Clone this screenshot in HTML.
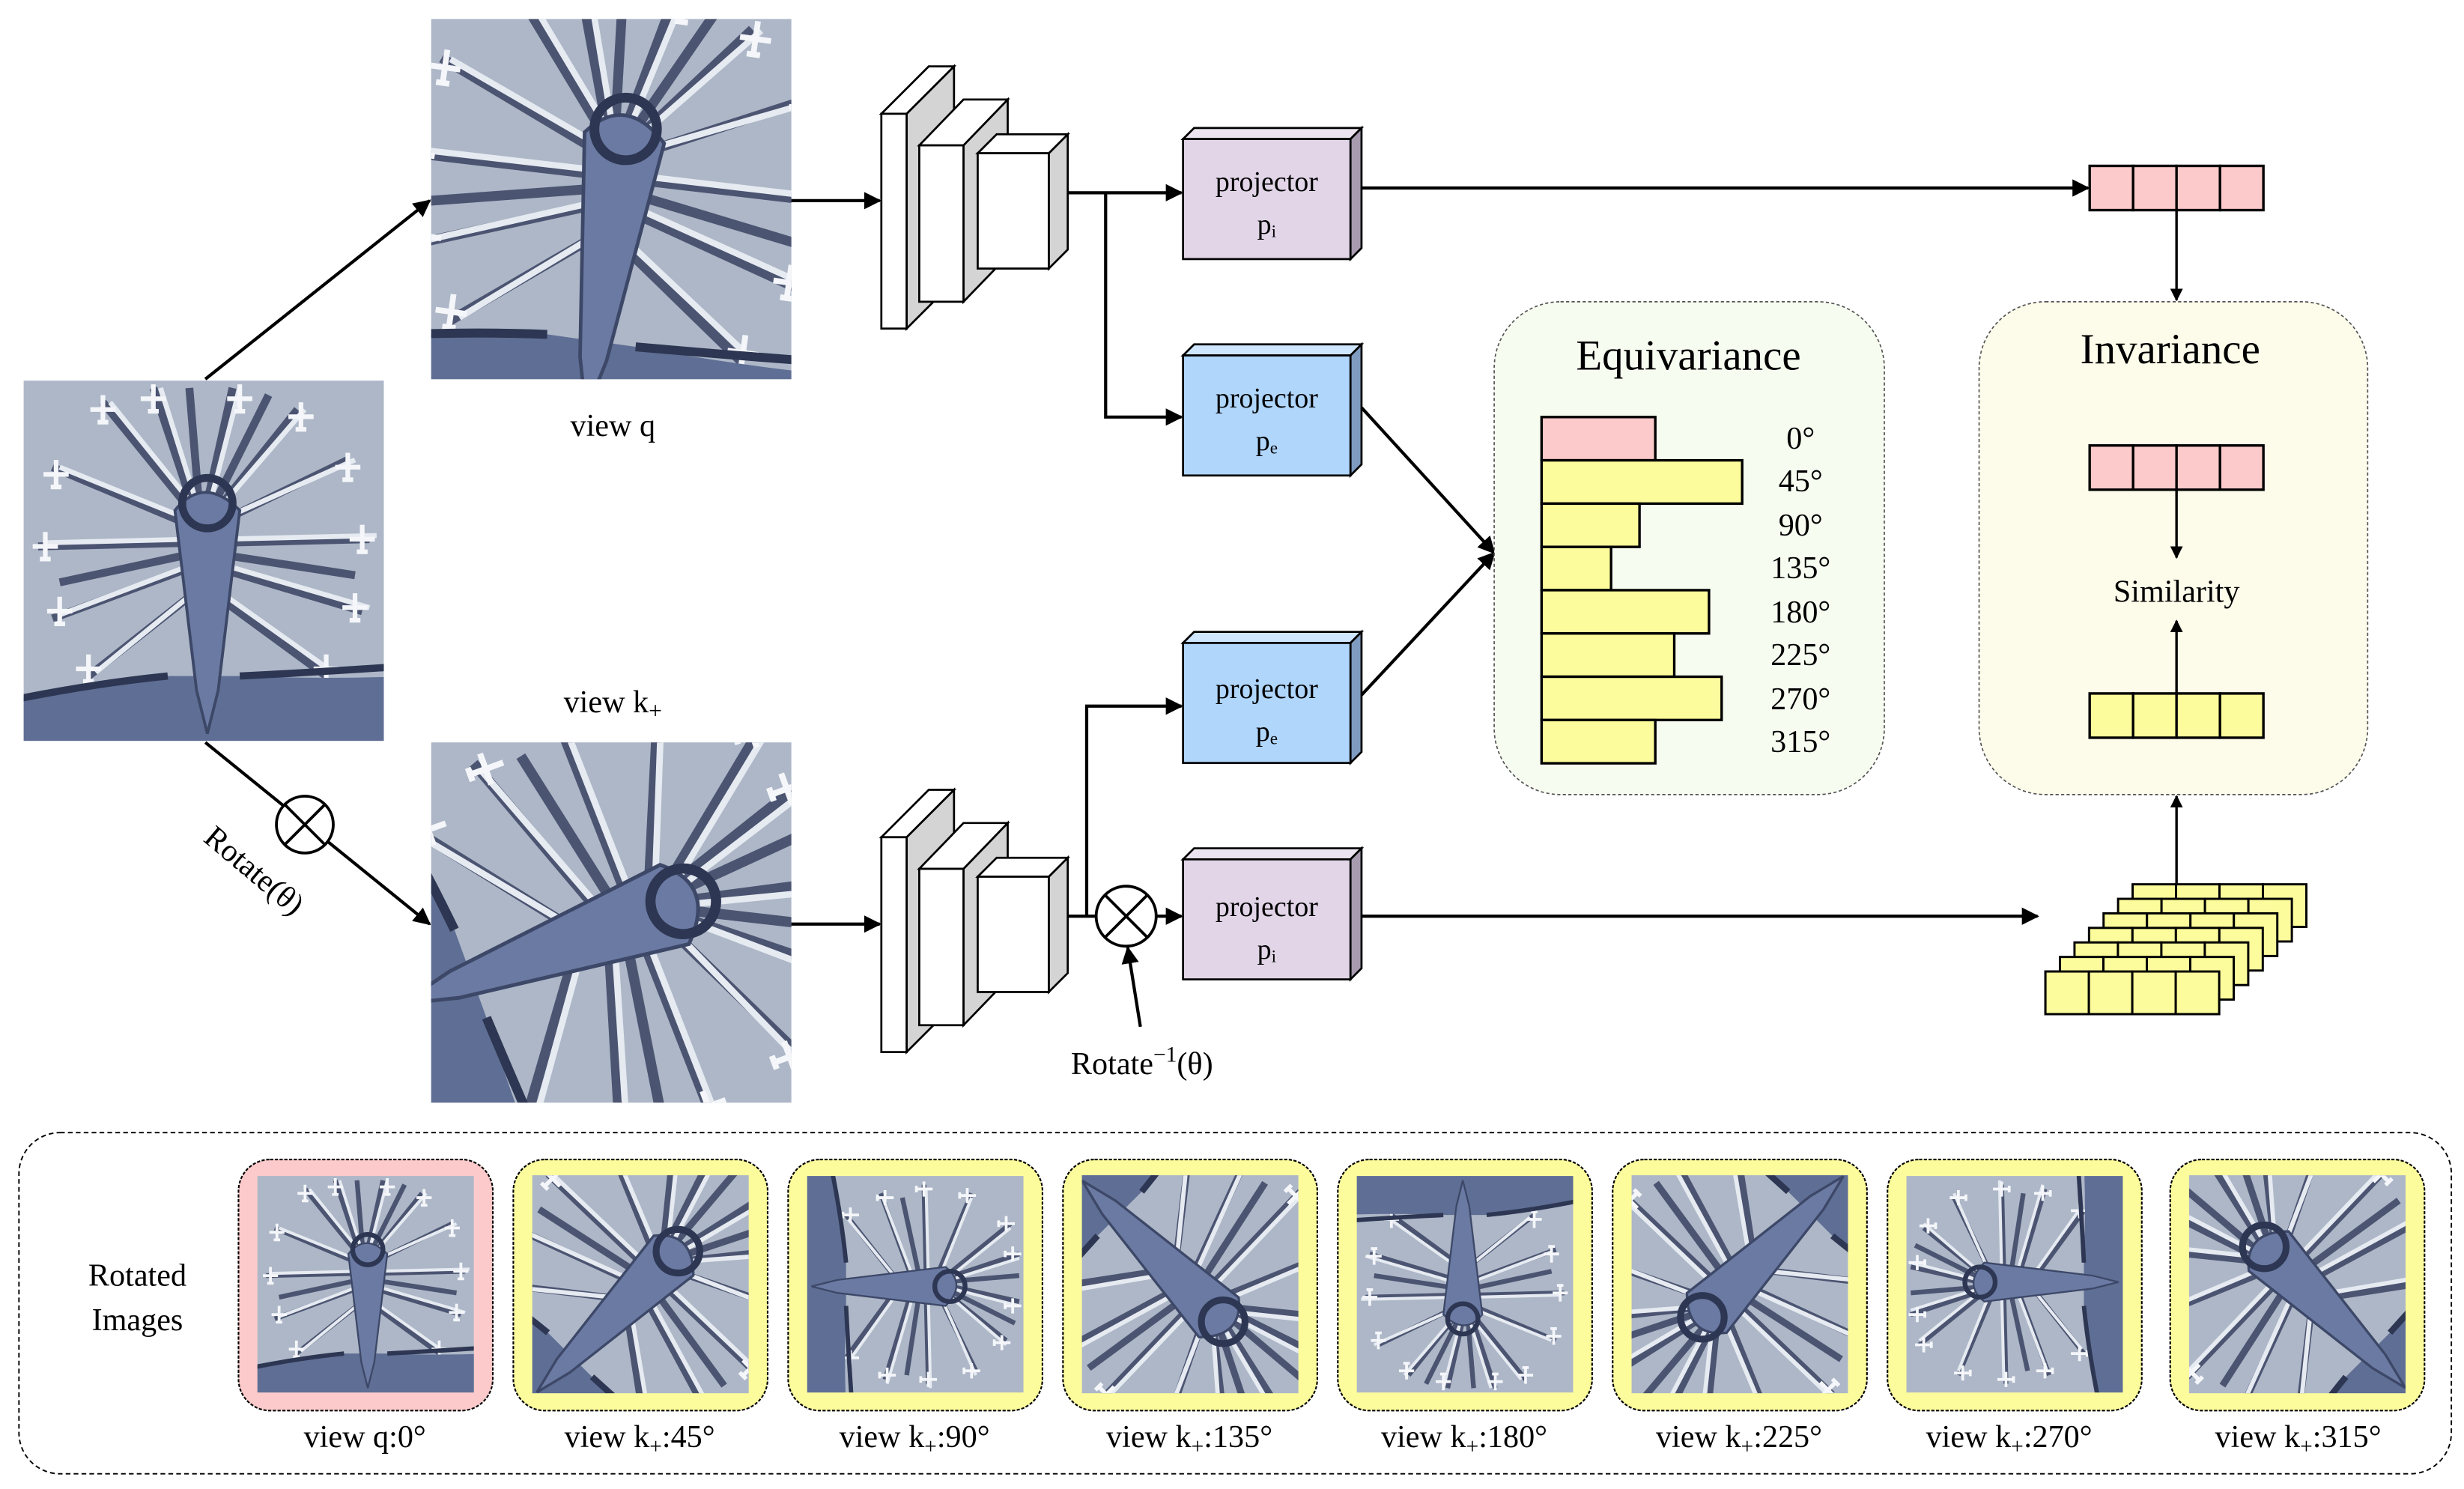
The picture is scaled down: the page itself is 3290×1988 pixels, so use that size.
<!DOCTYPE html>
<html><head><meta charset="utf-8"><style>
html,body{margin:0;padding:0;background:#fff;overflow:hidden;width:3290px;height:1988px;}
svg{display:block;}
text{font-family:"Liberation Serif",serif;fill:#000;}
</style></head><body>
<svg width="3290" height="1988" viewBox="0 0 1560 942.6" overflow="hidden" xmlns="http://www.w3.org/2000/svg">
<defs>
<marker id="ah" viewBox="0 0 10 10" refX="9" refY="5" markerWidth="8" markerHeight="8" markerUnits="userSpaceOnUse" orient="auto"><path d="M0,0 L10,5 L0,10 z" fill="#000"/></marker>
<marker id="ah2" viewBox="0 0 10 10" refX="9" refY="5" markerWidth="11" markerHeight="11" markerUnits="userSpaceOnUse" orient="auto"><path d="M0,0 L10,5 L0,10 z" fill="#000"/></marker>
<g id="pl"><path d="M0,-4 L0,4 M-3.5,0 L3.5,0 M-1.5,3.5 L1.5,3.5" stroke="#f4f6fa" stroke-width="1.3"/></g>
<symbol id="ap" viewBox="0 0 100 100">
<rect x="-50" y="-50" width="200" height="200" fill="#b3bccb"/>
<rect x="-50" y="-50" width="200" height="200" fill="#9aa6ba" opacity="0.25"/>
<g stroke="#3a4361" stroke-width="2.2" fill="none" opacity="0.85">
<path d="M48,38 L22,6 M48,38 L36,2 M50,38 L58,2 M52,38 L76,8 M53,40 L90,22 M46,40 L8,24 M46,45 L4,46 M54,45 L96,44 M46,52 L8,66 M54,52 L94,64 M46,60 L18,82 M54,60 L84,82 M47,48 L10,56 M53,48 L92,54 M49,38 L46,2 M51,38 L68,4"/>
</g>
<g stroke="#e6eaf1" stroke-width="1.4" fill="none">
<path d="M49,37 L24,6 M49,37 L38,2 M51,37 L60,2 M53,37 L78,8 M54,39 L92,22 M47,39 L10,24 M47,44 L6,45 M55,44 L98,43 M47,51 L10,65 M55,51 L96,63 M47,59 L20,81 M55,59 L86,81"/>
</g>
<g>
<use href="#pl" x="22" y="8"/><use href="#pl" x="36" y="5"/><use href="#pl" x="60" y="5"/><use href="#pl" x="77" y="10"/><use href="#pl" x="90" y="24"/><use href="#pl" x="9" y="26"/><use href="#pl" x="6" y="46"/><use href="#pl" x="94" y="44"/><use href="#pl" x="10" y="64"/><use href="#pl" x="92" y="63"/><use href="#pl" x="18" y="80"/><use href="#pl" x="84" y="80"/>
</g>
<path d="M-50,150 L-50,98 Q10,85 40,82 L60,82 Q110,84 150,78 L150,150 z" fill="#5f6e94"/>
<path d="M40,82 Q0,86 -50,100" stroke="#2d3652" stroke-width="2" fill="none"/>
<path d="M60,82 Q100,80 150,76" stroke="#2d3652" stroke-width="2" fill="none"/>
<path d="M42,36 Q50,26 60,36 L54,86 L51,98 L48,86 z" fill="#6b7aa3" stroke="#3d4868" stroke-width="0.8"/>
<circle cx="51" cy="34" r="7" fill="none" stroke="#2d3652" stroke-width="2.2"/>
</symbol>
</defs>

<svg x="15" y="241" width="228" height="228" viewBox="0 0 100 100"><use href="#ap" width="100" height="100"/></svg>
<svg x="273" y="12" width="228" height="228" viewBox="0 0 100 100"><g transform="rotate(8 50 50)"><use href="#ap" x="-12" y="-12" width="124" height="124"/></g></svg>
<svg x="273" y="470" width="228" height="228" viewBox="0 0 100 100"><g transform="rotate(70 50 50)"><use href="#ap" x="-15" y="-15" width="130" height="130"/></g></svg>
<text x="388" y="276" font-size="20" text-anchor="middle">view q</text>
<text x="388" y="451" font-size="20" text-anchor="middle">view k<tspan font-size="15" dy="4">+</tspan></text>

<g stroke="#000" stroke-width="2" fill="none">
<line x1="130" y1="240" x2="272" y2="127" marker-end="url(#ah2)"/>
<line x1="130" y1="470" x2="272" y2="585" marker-end="url(#ah2)"/>
<line x1="501" y1="127" x2="557" y2="127" marker-end="url(#ah2)"/>
<line x1="501" y1="585" x2="557" y2="585" marker-end="url(#ah2)"/>
</g>
<g stroke="#000" stroke-width="1.8" fill="#fff">
<circle cx="193" cy="522" r="18"/>
<line x1="180" y1="509" x2="206" y2="535"/><line x1="206" y1="509" x2="180" y2="535"/>
</g>
<text x="0" y="0" font-size="20" transform="translate(128,532) rotate(40)">Rotate(θ)</text>

<g id="enc" stroke="#000" stroke-width="1.3">
<polygon points="574,72 604,42 604,178 574,208" fill="#d4d4d4"/>
<polygon points="558,72 588,42 604,42 574,72" fill="#fff"/>
<rect x="558" y="72" width="16" height="136" fill="#fff"/>
<polygon points="610,92 638,63 638,162 610,191" fill="#d4d4d4"/>
<polygon points="582,92 610,63 638,63 610,92" fill="#fff"/>
<rect x="582" y="92" width="28" height="99" fill="#fff"/>
<polygon points="664,97 676,85 676,158 664,170" fill="#d4d4d4"/>
<polygon points="619,97 631,85 676,85 664,97" fill="#fff"/>
<rect x="619" y="97" width="45" height="73" fill="#fff"/>
</g>
<use href="#enc" y="458"/>

<g id="pi" stroke="#000" stroke-width="1.3">
<polygon points="749,88 756,81 862,81 855,88" fill="#ece3f0"/>
<polygon points="855,88 862,81 862,157 855,164" fill="#a89bb0"/>
<rect x="749" y="88" width="106" height="76" fill="#e1d5e7"/>
</g>
<g id="pe" stroke="#000" stroke-width="1.3">
<polygon points="749,225 756,218 862,218 855,225" fill="#cfe6ff"/>
<polygon points="855,225 862,218 862,294 855,301" fill="#7f9cc0"/>
<rect x="749" y="225" width="106" height="76" fill="#b0d6fc"/>
</g>
<use href="#pe" y="182"/>
<use href="#pi" y="456"/>
<g font-size="18" text-anchor="middle">
<text x="802" y="121">projector</text><text x="802" y="148">p<tspan font-size="11" dy="2">i</tspan></text>
<text x="802" y="258">projector</text><text x="802" y="285">p<tspan font-size="11" dy="2">e</tspan></text>
<text x="802" y="442">projector</text><text x="802" y="469">p<tspan font-size="11" dy="2">e</tspan></text>
<text x="802" y="580">projector</text><text x="802" y="607">p<tspan font-size="11" dy="2">i</tspan></text>
</g>

<g stroke="#000" stroke-width="2" fill="none">
<polyline points="676,122 748,122" marker-end="url(#ah2)"/>
<polyline points="700,122 700,264 748,264" marker-end="url(#ah2)"/>
<line x1="676" y1="580" x2="695" y2="580"/>
<polyline points="688,580 688,447 748,447" marker-end="url(#ah2)"/>
<line x1="731" y1="580" x2="748" y2="580" marker-end="url(#ah2)"/>
<line x1="722" y1="650" x2="714" y2="600" marker-end="url(#ah2)"/>
<line x1="862" y1="119" x2="1322" y2="119" marker-end="url(#ah2)"/>
<line x1="862" y1="258" x2="946" y2="350" marker-end="url(#ah2)"/>
<line x1="862" y1="440" x2="946" y2="350" marker-end="url(#ah2)"/>
<line x1="862" y1="580" x2="1290" y2="580" marker-end="url(#ah2)"/>
</g>
<g stroke="#000" stroke-width="1.8" fill="#fff">
<circle cx="713" cy="580" r="19"/>
<line x1="700" y1="567" x2="726" y2="593"/><line x1="726" y1="567" x2="700" y2="593"/>
</g>
<text x="723" y="680" font-size="20" text-anchor="middle">Rotate<tspan font-size="14" dy="-8">−1</tspan><tspan dy="8">(θ)</tspan></text>

<rect x="946" y="191" width="247" height="312" rx="42" fill="#f7fcf1" stroke="#555" stroke-width="0.8" stroke-dasharray="2,1.5"/>
<text x="1069" y="234" font-size="27" text-anchor="middle">Equivariance</text>
<g stroke="#000" stroke-width="1.6">
<rect x="976" y="264" width="72" height="27.4" fill="#fccaca"/>
<rect x="976" y="291.4" width="127" height="27.4" fill="#fdfc9c"/>
<rect x="976" y="318.8" width="62" height="27.4" fill="#fdfc9c"/>
<rect x="976" y="346.2" width="44" height="27.4" fill="#fdfc9c"/>
<rect x="976" y="373.6" width="106" height="27.4" fill="#fdfc9c"/>
<rect x="976" y="401" width="84" height="27.4" fill="#fdfc9c"/>
<rect x="976" y="428.4" width="114" height="27.4" fill="#fdfc9c"/>
<rect x="976" y="455.8" width="72" height="27.4" fill="#fdfc9c"/>
</g>
<g font-size="20" text-anchor="middle">
<text x="1140" y="284">0°</text>
<text x="1140" y="311">45°</text>
<text x="1140" y="339">90°</text>
<text x="1140" y="366">135°</text>
<text x="1140" y="394">180°</text>
<text x="1140" y="421">225°</text>
<text x="1140" y="449">270°</text>
<text x="1140" y="476">315°</text>
</g>

<rect x="1253" y="191" width="246" height="312" rx="42" fill="#fdfbea" stroke="#555" stroke-width="0.8" stroke-dasharray="2,1.5"/>
<text x="1374" y="230" font-size="27" text-anchor="middle">Invariance</text>
<g id="vp" stroke="#000" stroke-width="1.6" fill="#fccaca">
<rect x="1323" y="105" width="27.5" height="28"/><rect x="1350.5" y="105" width="27.5" height="28"/><rect x="1378" y="105" width="27.5" height="28"/><rect x="1405.5" y="105" width="27.5" height="28"/>
</g>
<use href="#vp" y="177"/>
<g stroke="#000" stroke-width="1.6" fill="#fdfc9c">
<rect x="1323" y="439" width="27.5" height="28"/><rect x="1350.5" y="439" width="27.5" height="28"/><rect x="1378" y="439" width="27.5" height="28"/><rect x="1405.5" y="439" width="27.5" height="28"/>
</g>
<text x="1378" y="381" font-size="20" text-anchor="middle">Similarity</text>
<g stroke="#000" stroke-width="1.6" fill="none">
<line x1="1378" y1="133" x2="1378" y2="190" marker-end="url(#ah)"/>
<line x1="1378" y1="309" x2="1378" y2="353" marker-end="url(#ah)"/>
<line x1="1378" y1="439" x2="1378" y2="393" marker-end="url(#ah)"/>
<line x1="1378" y1="560" x2="1378" y2="504" marker-end="url(#ah)"/>
</g>
<g id="sv" stroke="#000" stroke-width="1.4" fill="#fdfc9c">
<rect x="1295" y="615" width="27.5" height="27"/><rect x="1322.5" y="615" width="27.5" height="27"/><rect x="1350" y="615" width="27.5" height="27"/><rect x="1377.5" y="615" width="27.5" height="27"/>
</g>
<g>
<use href="#sv" x="55.2" y="-55.2"/><use href="#sv" x="46" y="-46"/><use href="#sv" x="36.8" y="-36.8"/><use href="#sv" x="27.6" y="-27.6"/><use href="#sv" x="18.4" y="-18.4"/><use href="#sv" x="9.2" y="-9.2"/><use href="#sv"/>
</g>

<rect x="12" y="717" width="1540" height="216" rx="26" fill="#fff" stroke="#000" stroke-width="0.9" stroke-dasharray="3,2"/>
<text x="87" y="814" font-size="20" text-anchor="middle">Rotated</text>
<text x="87" y="842" font-size="20" text-anchor="middle">Images</text>

<g stroke="#000" stroke-width="1" stroke-dasharray="2,1">
<rect x="151" y="734" width="161" height="159" rx="20" fill="#fccaca"/>
<rect x="325" y="734" width="161" height="159" rx="20" fill="#fdfc9c"/>
<rect x="499" y="734" width="161" height="159" rx="20" fill="#fdfc9c"/>
<rect x="673" y="734" width="161" height="159" rx="20" fill="#fdfc9c"/>
<rect x="847" y="734" width="161" height="159" rx="20" fill="#fdfc9c"/>
<rect x="1021" y="734" width="161" height="159" rx="20" fill="#fdfc9c"/>
<rect x="1195" y="734" width="161" height="159" rx="20" fill="#fdfc9c"/>
<rect x="1374" y="734" width="161" height="159" rx="20" fill="#fdfc9c"/>
</g>
<svg x="163" y="744" width="137" height="138" viewBox="0 0 100 100"><use href="#ap" width="100" height="100"/></svg>
<svg x="337" y="744" width="137" height="138" viewBox="0 0 100 100"><g transform="rotate(45 50 50)"><use href="#ap" x="-22" y="-22" width="144" height="144"/></g></svg>
<svg x="511" y="744" width="137" height="138" viewBox="0 0 100 100"><g transform="rotate(90 50 50)"><use href="#ap" width="100" height="100"/></g></svg>
<svg x="685" y="744" width="137" height="138" viewBox="0 0 100 100"><g transform="rotate(135 50 50)"><use href="#ap" x="-22" y="-22" width="144" height="144"/></g></svg>
<svg x="859" y="744" width="137" height="138" viewBox="0 0 100 100"><g transform="rotate(180 50 50)"><use href="#ap" width="100" height="100"/></g></svg>
<svg x="1033" y="744" width="137" height="138" viewBox="0 0 100 100"><g transform="rotate(225 50 50)"><use href="#ap" x="-22" y="-22" width="144" height="144"/></g></svg>
<svg x="1207" y="744" width="137" height="138" viewBox="0 0 100 100"><g transform="rotate(270 50 50)"><use href="#ap" width="100" height="100"/></g></svg>
<svg x="1386" y="744" width="137" height="138" viewBox="0 0 100 100"><g transform="rotate(315 50 50)"><use href="#ap" x="-22" y="-22" width="144" height="144"/></g></svg>

<g font-size="20" text-anchor="middle">
<text x="231" y="916">view q:0°</text>
<text x="405" y="916">view  k<tspan font-size="14" dy="4">+</tspan><tspan dy="-4">:45°</tspan></text>
<text x="579" y="916">view  k<tspan font-size="14" dy="4">+</tspan><tspan dy="-4">:90°</tspan></text>
<text x="753" y="916">view  k<tspan font-size="14" dy="4">+</tspan><tspan dy="-4">:135°</tspan></text>
<text x="927" y="916">view  k<tspan font-size="14" dy="4">+</tspan><tspan dy="-4">:180°</tspan></text>
<text x="1101" y="916">view  k<tspan font-size="14" dy="4">+</tspan><tspan dy="-4">:225°</tspan></text>
<text x="1272" y="916">view  k<tspan font-size="14" dy="4">+</tspan><tspan dy="-4">:270°</tspan></text>
<text x="1455" y="916">view  k<tspan font-size="14" dy="4">+</tspan><tspan dy="-4">:315°</tspan></text>
</g>
</svg>
</body></html>
